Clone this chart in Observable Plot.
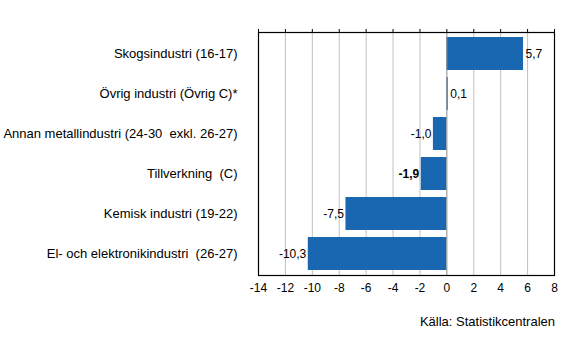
<!DOCTYPE html>
<html><head><meta charset="utf-8">
<script src="https://cdn.jsdelivr.net/npm/d3@7"></script>
<script src="https://cdn.jsdelivr.net/npm/@observablehq/plot@0.6"></script>
<style>
body{margin:0;background:#fff;font-family:"Liberation Sans",Arial,sans-serif;}
#wrap{width:566px;}
svg text{white-space:pre;}
#cap{width:555px;text-align:right;font-size:13px;color:#000;margin-top:8px;}
</style></head><body><div id="wrap"></div>
<script>
const categories = ["Skogsindustri (16-17)","Övrig industri (Övrig C)*","Annan metallindustri (24-30  exkl. 26-27)","Tillverkning  (C)","Kemisk industri (19-22)","El- och elektronikindustri  (26-27)"];
const values = [5.7, 0.1, -1.0, -1.9, -7.5, -10.3];
const bold = [false, false, false, true, false, false];
const xTicks = [-14,-12,-10,-8,-6,-4,-2,0,2,4,6,8];
const caption = "Källa: Statistikcentralen";

const data = categories.map((c,i)=>({cat:c, v:values[i], bold:bold[i]}));
const fmt = v => d3.format(".1f")(v).replace(".", ",").replace("−","-");
const grid = xTicks.filter(t=>t!==0);
const pos = data.filter(d=>d.v>=0), neg = data.filter(d=>d.v<0);

const chart = Plot.plot({
  width:566, height:306,
  marginLeft:258, marginRight:12, marginTop:32, marginBottom:31,
  style:{fontFamily:"Liberation Sans, Arial, sans-serif", fontSize:"12px", color:"#000", background:"#fff"},
  x:{domain:[-14,8], ticks:xTicks, label:null},
  y:{domain:categories, paddingInner:0.17, paddingOuter:0.07, label:null},
  marks:[
    Plot.ruleX(grid,{stroke:"#c0c0c0", strokeWidth:1}),
    Plot.barX(data,{x:"v", y:"cat", fill:"#1a67b1"}),
    Plot.ruleX([0],{stroke:"#8c8c8c", strokeWidth:1}),
    Plot.frame({stroke:"#000", strokeWidth:1.2}),
    Plot.axisX({anchor:"top", ticks:xTicks, tickSize:4, tickFormat:()=>"", stroke:"#000", label:null}),
    Plot.axisX({anchor:"bottom", ticks:xTicks, tickSize:0, tickPadding:8, tickFormat:d=>String(d).replace("−","-"), fontSize:12, fill:"#000", label:null}),
    Plot.axisY({tickSize:0, tickPadding:21, fontSize:13, fill:"#000", label:null}),
    Plot.text(pos.filter(d=>!d.bold),{x:"v", y:"cat", text:d=>fmt(d.v), textAnchor:"start", dx:2, fontSize:12, fill:"#000"}),
    Plot.text(neg.filter(d=>!d.bold),{x:"v", y:"cat", text:d=>fmt(d.v), textAnchor:"end", dx:-2, fontSize:12, fill:"#000"}),
    Plot.text(neg.filter(d=>d.bold),{x:"v", y:"cat", text:d=>fmt(d.v), textAnchor:"end", dx:-2, fontSize:12, fill:"#000", fontWeight:"bold"}),
    Plot.text(pos.filter(d=>d.bold),{x:"v", y:"cat", text:d=>fmt(d.v), textAnchor:"start", dx:2, fontSize:12, fill:"#000", fontWeight:"bold"})
  ]
});
document.getElementById("wrap").appendChild(chart);
const cap = document.createElement("div");
cap.id="cap"; cap.textContent=caption;
document.getElementById("wrap").appendChild(cap);
</script></body></html>
